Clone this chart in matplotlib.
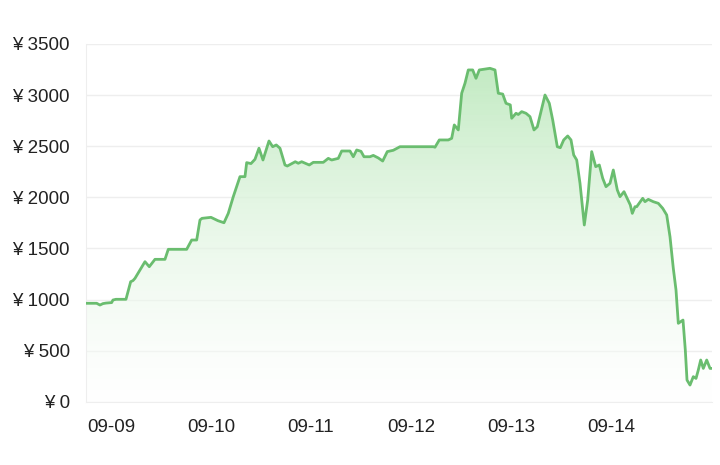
import numpy as np
import matplotlib
matplotlib.use("Agg")
import matplotlib.pyplot as plt
from matplotlib.patches import Polygon

# x = days after 09-09 00:00, y = price (¥)
day_offset = [
    -0.25, -0.143, -0.11, -0.08, -0.05, 0.007, 0.02, 0.05, 0.15, 0.197, 0.22, 0.24, 0.34, 0.383,
    0.44, 0.54, 0.54, 0.573, 0.61, 0.643, 0.757, 0.807, 0.857, 0.89, 0.91, 1.00, 1.07,
    1.13, 1.173, 1.223, 1.29, 1.34, 1.357, 1.40, 1.44, 1.48, 1.52, 1.58, 1.617, 1.653,
    1.69, 1.74, 1.763, 1.843, 1.873, 1.907, 1.943, 1.983, 2.023, 2.123, 2.173, 2.207,
    2.273, 2.307, 2.39, 2.423, 2.457, 2.50, 2.53, 2.59, 2.623, 2.673, 2.717, 2.763, 2.823,
    2.89, 3.223, 3.24, 3.283, 3.373, 3.407, 3.433, 3.473, 3.507, 3.54, 3.573, 3.617, 3.65,
    3.683, 3.79, 3.84, 3.873, 3.917, 3.95, 3.993, 4.007, 4.05, 4.073, 4.107, 4.15, 4.19,
    4.23, 4.263, 4.34, 4.383, 4.417, 4.463, 4.493, 4.527, 4.567, 4.60, 4.627, 4.657,
    4.69, 4.733, 4.767, 4.807, 4.847, 4.883, 4.917, 4.95, 4.99, 5.023, 5.063, 5.09,
    5.13, 5.193, 5.213, 5.24, 5.257, 5.317, 5.34, 5.373, 5.423, 5.473, 5.517, 5.557,
    5.59, 5.623, 5.65, 5.673, 5.697, 5.72, 5.743, 5.76, 5.79, 5.823, 5.85, 5.873, 5.897,
    5.923, 5.957, 5.99, 6.007,
]
price = [
    963, 963, 946, 960, 965, 970, 995, 1002, 1002, 1174, 1185, 1207, 1370, 1321,
    1393, 1393, 1393, 1491, 1491, 1491, 1491, 1582, 1582, 1778, 1794, 1804, 1771,
    1751, 1843, 2006, 2202, 2202, 2339, 2330, 2372, 2480, 2365, 2551, 2495, 2512,
    2480, 2316, 2306, 2348, 2333, 2348, 2333, 2316, 2342, 2342, 2381, 2365,
    2381, 2453, 2453, 2397, 2463, 2450, 2397, 2397, 2410, 2385, 2355, 2447, 2460,
    2495, 2495, 2490, 2561, 2561, 2577, 2708, 2659, 3018, 3116, 3246, 3246, 3164,
    3246, 3262, 3246, 3018, 3010, 2920, 2904, 2773, 2822, 2810, 2838, 2822, 2789,
    2659, 2690, 3001, 2920, 2757, 2495, 2485, 2561, 2600, 2561, 2414, 2365,
    2137, 1729, 1974, 2447, 2300, 2316, 2186, 2104, 2137, 2267, 2072, 2006, 2055,
    1925, 1843, 1908, 1908, 1990, 1957, 1980, 1957, 1941, 1892, 1827,
    1614, 1305, 1093, 767, 783, 799, 506, 212, 163, 245, 228, 310, 408,
    326, 408, 326, 326,
]
tick_days = [0, 1, 2, 3, 4, 5]
tick_labels = ["09-09", "09-10", "09-11", "09-12", "09-13", "09-14"]
y_ticks = [0, 500, 1000, 1500, 2000, 2500, 3000, 3500]
y_labels = ["¥ 0", "¥ 500", "¥ 1000", "¥ 1500", "¥ 2000", "¥ 2500", "¥ 3000", "¥ 3500"]

plt.rcParams["font.family"] = ["Liberation Sans", "DejaVu Sans"]

fig = plt.figure(figsize=(7.2, 4.65), dpi=100)
ax = fig.add_axes([0.1194, 0.1361, 0.8695, 0.7693])

x = np.array(day_offset)
y = np.array(price)
xmin, xmax = -0.25, 6.01
ymin, ymax = 0, 3500
ax.set_xlim(xmin, xmax)
ax.set_ylim(ymin, ymax)

# gradient fill
top_col = np.array([0.76, 0.92, 0.76])
bot_col = np.array([1.0, 1.0, 1.0])
n = 256
t = np.linspace(0, 1, n)[:, None]
grad = np.zeros((n, 1, 4))
grad[:, 0, :3] = bot_col * (1 - t) + top_col * t
grad[:, 0, 3] = 0.4 + 0.6 * t[:, 0]
img = ax.imshow(grad, extent=[xmin, xmax, ymin, 3300], origin="lower",
                aspect="auto", zorder=1, interpolation="bilinear")
verts = np.column_stack([np.r_[x[0], x, x[-1]], np.r_[0, y, 0]])
poly = Polygon(verts, closed=True, facecolor="none", edgecolor="none")
ax.add_patch(poly)
img.set_clip_path(poly)

ax.plot(x, y, color="#6abd6f", lw=2.0, solid_joinstyle="round",
        solid_capstyle="round", zorder=3)

ax.set_yticks(y_ticks)
ax.set_yticklabels(y_labels)
ax.set_xticks(tick_days)
ax.set_xticklabels(tick_labels)
ax.tick_params(axis="both", length=0, labelsize=13.5, colors="#222222")
ax.tick_params(axis="y", pad=11.5)
ax.tick_params(axis="x", pad=12.5)
ax.grid(axis="y", color="#eeeeee", lw=1)
ax.set_axisbelow(True)
for s in ["top", "right"]:
    ax.spines[s].set_visible(False)
ax.spines["left"].set_color("#eeeeee")
ax.spines["bottom"].set_color("#eeeeee")

fig.savefig("out.png", dpi=100)
